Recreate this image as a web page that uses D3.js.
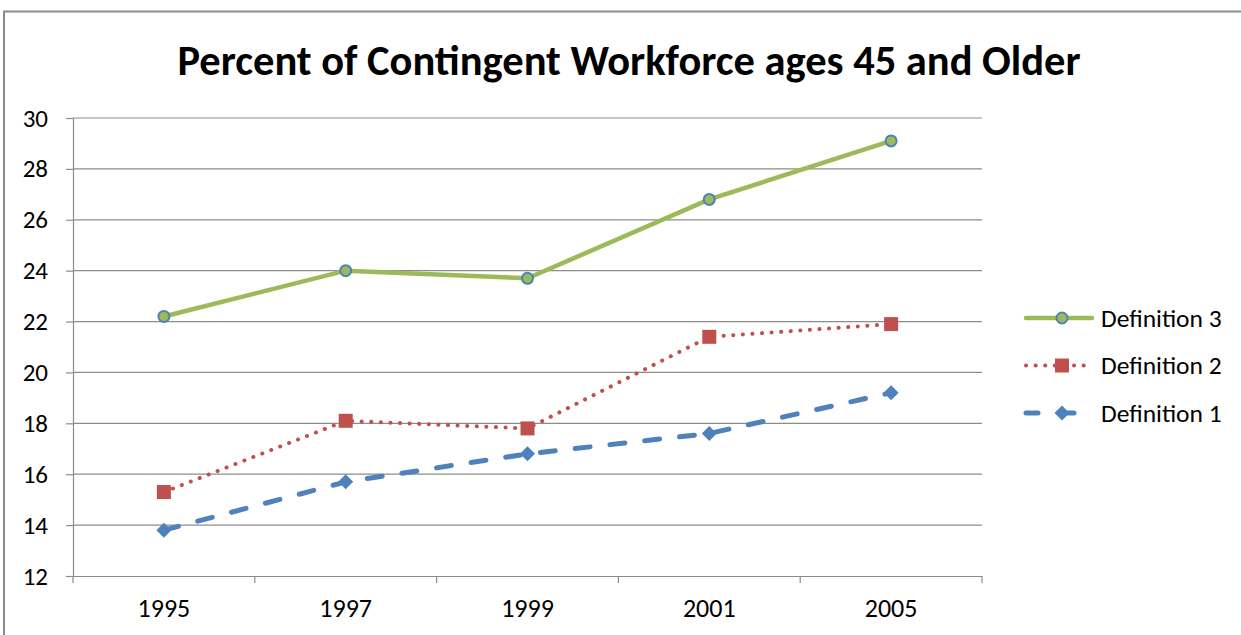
<!DOCTYPE html>
<meta charset="utf-8">
<head>
<style>
  body { margin: 0; background: #fff; }
  svg text { font-family: Calibri, Carlito, "Liberation Sans", Arial, sans-serif; fill: #000; }
</style>
</head>
<script src="https://d3js.org/d3.v7.min.js"></script>
<body>
<div id="my_dataviz"></div>
<script>
// data
var years = ["1995", "1997", "1999", "2001", "2005"];
var def1 = [13.8, 15.7, 16.8, 17.6, 19.2];
var def2 = [15.3, 18.1, 17.8, 21.4, 21.9];
var def3 = [22.2, 24.0, 23.7, 26.8, 29.1];
var yTicks = [12, 14, 16, 18, 20, 22, 24, 26, 28, 30];
var seriesNames = ["Definition 3", "Definition 2", "Definition 1"];

var W = 1241, H = 635;
var margin = {top: 118, left: 73, right: 259, bottom: 59};
var width = W - margin.left - margin.right,
    height = H - margin.top - margin.bottom;

var svg = d3.select("#my_dataviz")
  .append("svg")
    .attr("width", W)
    .attr("height", H);

// outer chart frame (only top and left edges are in view)
svg.append("path")
  .attr("d", "M4," + H + "V11.5H" + W)
  .attr("fill", "none")
  .attr("stroke", "#8c8c8c")
  .attr("stroke-width", 2);

svg.append("text")
  .attr("x", 629)
  .attr("y", 75)
  .attr("text-anchor", "middle")
  .style("font-size", "42.5px")
  .style("font-weight", "bold")
  .text("Percent of Contingent Workforce ages 45 and Older");

var g = svg.append("g")
  .attr("transform", "translate(" + margin.left + "," + margin.top + ")");

var x = d3.scaleBand().domain(years).range([0, width]);
var y = d3.scaleLinear().domain([12, 30]).range([height, 0]);

// gridlines
g.append("g")
  .selectAll("line")
  .data(yTicks.slice(1))
  .enter().append("line")
    .attr("x1", 0).attr("x2", width)
    .attr("y1", function(d) { return y(d); })
    .attr("y2", function(d) { return y(d); })
    .attr("stroke", "#8c8c8c")
    .attr("stroke-width", 1.2);

// y axis
var yAxis = g.append("g")
  .call(d3.axisLeft(y).tickValues(yTicks).tickSize(7).tickPadding(18));
yAxis.select(".domain").attr("stroke", "#8c8c8c").attr("stroke-width", 1.2);
yAxis.selectAll(".tick line").attr("stroke", "#8c8c8c").attr("stroke-width", 1.2);
yAxis.selectAll("text").style("font-size", "25px").attr("font-family", null);

// x axis, ticks at category boundaries
var xAxis = g.append("g")
  .attr("transform", "translate(0," + height + ")")
  .call(d3.axisBottom(x).tickSize(0).tickPadding(23));
xAxis.select(".domain").attr("stroke", "#8c8c8c").attr("stroke-width", 1.2);
xAxis.selectAll("text").style("font-size", "26px").attr("font-family", null);
g.append("g")
  .selectAll("line")
  .data(d3.range(years.length + 1))
  .enter().append("line")
    .attr("x1", function(i) { return i * x.step(); })
    .attr("x2", function(i) { return i * x.step(); })
    .attr("y1", height).attr("y2", height + 7)
    .attr("stroke", "#8c8c8c")
    .attr("stroke-width", 1.2);

var styles = [
  {vals: def3, color: "#9bbb59", dash: null, width: 4.5, marker: "circle"},
  {vals: def2, color: "#c0504d", dash: "0.1,9.5", width: 4, marker: "square"},
  {vals: def1, color: "#4f81bd", dash: "15,20", width: 5, marker: "diamond"}
];

var line = d3.line()
  .x(function(d, i) { return x(years[i]) + x.bandwidth() / 2; })
  .y(function(d) { return y(d); });

function drawMarker(sel, s) {
  if (s.marker === "circle") {
    sel.append("circle").attr("r", 5.5)
      .attr("fill", s.color).attr("stroke", "#4f81bd").attr("stroke-width", 2);
  } else if (s.marker === "square") {
    sel.append("rect").attr("x", -7).attr("y", -7).attr("width", 14).attr("height", 14)
      .attr("fill", s.color);
  } else {
    sel.append("path").attr("d", "M0,-7.5L7.5,0L0,7.5L-7.5,0Z").attr("fill", s.color);
  }
}

styles.slice().reverse().forEach(function(s) {
  g.append("path")
    .datum(s.vals)
    .attr("d", line)
    .attr("fill", "none")
    .attr("stroke", s.color)
    .attr("stroke-width", s.width)
    .attr("stroke-linecap", "round")
    .attr("stroke-dasharray", s.dash);
  s.vals.forEach(function(v, i) {
    var m = g.append("g")
      .attr("transform", "translate(" + (x(years[i]) + x.bandwidth() / 2) + "," + y(v) + ")");
    drawMarker(m, s);
  });
});

// legend
var legend = svg.append("g").attr("transform", "translate(1026,318)");
styles.forEach(function(s, i) {
  var row = legend.append("g").attr("transform", "translate(0," + (i * 47.5) + ")");
  row.append("line")
    .attr("x1", 0).attr("x2", 66)
    .attr("stroke", s.color)
    .attr("stroke-width", s.width)
    .attr("stroke-linecap", "round")
    .attr("stroke-dasharray", s.dash ? (s.marker === "diamond" ? "12,24" : "0.1,9.5") : null);
  var m = row.append("g").attr("transform", "translate(36,0)");
  drawMarker(m, s);
  row.append("text")
    .attr("x", 75)
    .attr("y", 8.5)
    .style("font-size", "25.5px")
    .text(seriesNames[i]);
});
</script>
</body>
